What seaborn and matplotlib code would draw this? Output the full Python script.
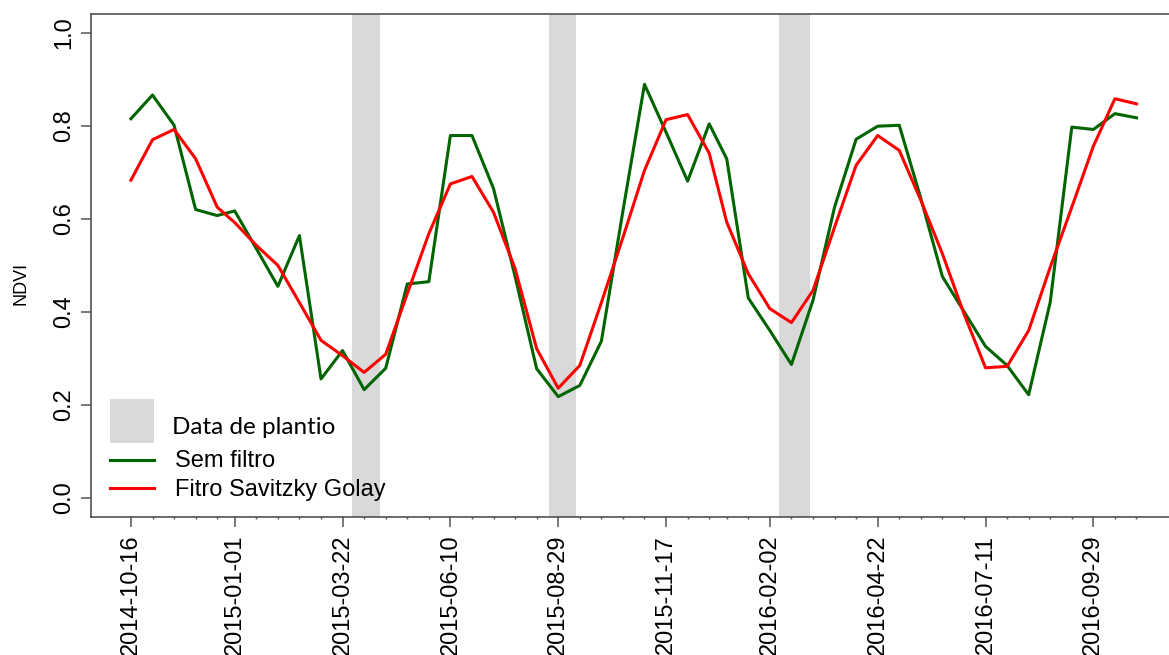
import pandas as pd
import seaborn as sns
import matplotlib.pyplot as plt
from matplotlib.patches import Rectangle
from matplotlib.lines import Line2D

# datas MODIS (16 dias)
dates = ['2014-10-16', '2014-11-01', '2014-11-17', '2014-12-03', '2014-12-19',
         '2015-01-01', '2015-01-17', '2015-02-02', '2015-02-18', '2015-03-06',
         '2015-03-22', '2015-04-07', '2015-04-23', '2015-05-09', '2015-05-25',
         '2015-06-10', '2015-06-26', '2015-07-12', '2015-07-28', '2015-08-13',
         '2015-08-29', '2015-09-14', '2015-09-30', '2015-10-16', '2015-11-01',
         '2015-11-17', '2015-12-03', '2015-12-19', '2016-01-01', '2016-01-17',
         '2016-02-02', '2016-02-18', '2016-03-05', '2016-03-21', '2016-04-06',
         '2016-04-22', '2016-05-08', '2016-05-24', '2016-06-09', '2016-06-25',
         '2016-07-11', '2016-07-27', '2016-08-12', '2016-08-28', '2016-09-13',
         '2016-09-29', '2016-10-15', '2016-10-31']

sem_filtro = [0.815, 0.866, 0.801, 0.620, 0.607, 0.617, 0.536, 0.455, 0.564, 0.256,
              0.317, 0.233, 0.279, 0.460, 0.465, 0.779, 0.779, 0.665, 0.476, 0.278,
              0.218, 0.242, 0.337, 0.617, 0.889, 0.786, 0.681, 0.804, 0.729, 0.430,
              0.360, 0.287, 0.425, 0.625, 0.771, 0.799, 0.801, 0.644, 0.476, 0.401,
              0.326, 0.285, 0.222, 0.421, 0.797, 0.792, 0.826, 0.817]

savitzky = [0.683, 0.770, 0.792, 0.729, 0.625, 0.592, 0.543, 0.500, 0.420, 0.339,
            0.306, 0.270, 0.309, 0.439, 0.568, 0.675, 0.691, 0.614, 0.493, 0.321,
            0.236, 0.285, 0.420, 0.560, 0.704, 0.813, 0.824, 0.741, 0.593, 0.482,
            0.407, 0.377, 0.446, 0.582, 0.715, 0.779, 0.747, 0.640, 0.525, 0.396,
            0.280, 0.283, 0.360, 0.496, 0.625, 0.756, 0.858, 0.847]

# janelas de plantio
plantio_ini = ['2015-03-29', '2015-08-22', '2016-02-09']
plantio_fim = ['2015-04-19', '2015-09-11', '2016-03-03']

tick_dates = dates[::5]
y_ticks = [0.0, 0.2, 0.4, 0.6, 0.8, 1.0]

df = pd.DataFrame({'data': pd.to_datetime(dates),
                   'Sem filtro': sem_filtro,
                   'Fitro Savitzky Golay': savitzky})
long_df = df.melt(id_vars='data', var_name='serie', value_name='NDVI')

plt.rcParams['font.family'] = ['Liberation Sans', 'DejaVu Sans']

fig = plt.figure(figsize=(11.69, 6.55), dpi=100)
ax = fig.add_axes([0.0776, 0.2111, 0.929, 0.7675])

for a, b in zip(plantio_ini, plantio_fim):
    ax.axvspan(pd.Timestamp(a), pd.Timestamp(b), color='#d9d9d9', lw=0, zorder=0)

sns.lineplot(data=long_df, x='data', y='NDVI', hue='serie',
             palette={'Sem filtro': '#006400', 'Fitro Savitzky Golay': '#ff0000'},
             linewidth=2.2, legend=False, ax=ax)

# limites estilo R (4%)
span = df['data'].iloc[-1] - df['data'].iloc[0]
ax.set_xlim(df['data'].iloc[0] - span * 0.04, df['data'].iloc[-1] + span * 0.04)
ax.set_ylim(-0.04, 1.04)

ax.set_xticks(pd.to_datetime(tick_dates))
ax.set_xticklabels(tick_dates, rotation=90, fontsize=17)
ax.set_xticks(pd.to_datetime(dates), minor=True)
ax.set_yticks(y_ticks)
ax.set_yticklabels([f'{v:.1f}' for v in y_ticks], rotation=90, va='center', fontsize=17)

ax.tick_params(which='major', length=7, width=1.1, color='#555555', pad=6)
ax.tick_params(which='minor', length=1.5, width=1.0, color='#555555')
ax.tick_params(axis='y', pad=4)

ax.set_xlabel('')
ax.set_ylabel('NDVI', fontsize=13)
ax.yaxis.set_label_coords(-0.056, 0.465)

for s in ax.spines.values():
    s.set_color('#444444')
    s.set_linewidth(1.1)

# legenda
fig.patches.append(Rectangle((110 / 1169, 1 - 443 / 655), 44 / 1169, 44 / 655,
                             transform=fig.transFigure, color='#d9d9d9', lw=0))
fig.lines.append(Line2D([110 / 1169, 154 / 1169], [1 - 460 / 655] * 2,
                        transform=fig.transFigure, color='#006400', lw=2.2))
fig.lines.append(Line2D([110 / 1169, 154 / 1169], [1 - 488 / 655] * 2,
                        transform=fig.transFigure, color='#ff0000', lw=2.2))
fig.text(172 / 1169, 1 - 427 / 655, 'Data de plantio', family=['Lato', 'DejaVu Sans'],
         fontsize=17.5, va='center')
fig.text(175 / 1169, 1 - 461 / 655, 'Sem filtro', fontsize=17, va='center')
fig.text(175 / 1169, 1 - 490 / 655, 'Fitro Savitzky Golay', fontsize=17, va='center')

fig.savefig('out.png', dpi=100)
